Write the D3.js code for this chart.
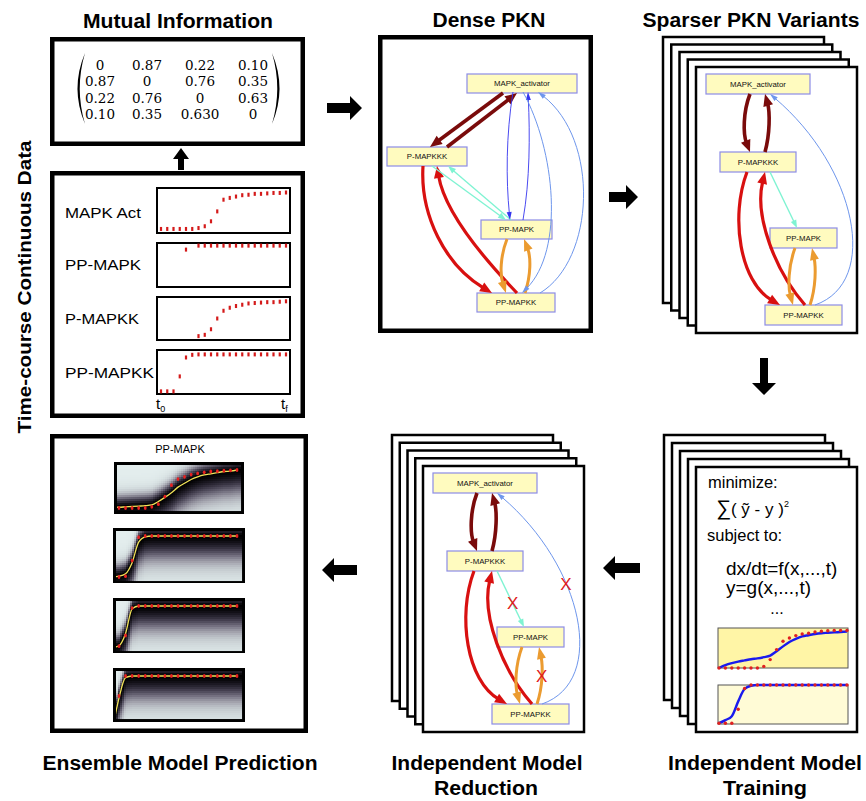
<!DOCTYPE html>
<html><head><meta charset="utf-8">
<script src="https://cdn.jsdelivr.net/npm/d3@7"></script>
<style>body{margin:0;background:#fff}svg{display:block}</style>
</head><body>
<script>
// ================= DATA =================
const miRow1 = ["0","0.87","0.22","0.10"];
const miRow2 = ["0.87","0","0.76","0.35"];
const miRow3 = ["0.22","0.76","0","0.63"];
const miRow4 = ["0.10","0.35","0.630","0"];

const timeSteps = [0,1,2,3,4,5,6,7,8,9,10,11,12,13,14,15,16,17,18,19,20];
const seriesNames = ["MAPK Act","PP-MAPK","P-MAPKK","PP-MAPKK"];
const mapkAct = [0.09,0.09,0.09,0.09,0.09,0.09,0.11,0.15,0.26,0.48,0.74,0.78,0.81,0.84,0.85,0.87,0.87,0.88,0.89,0.89,0.9];
const ppMapk  = [null,null,null,null,0.85,null,0.94,0.94,0.94,0.94,0.94,0.94,0.94,0.94,0.94,0.94,0.94,0.94,0.94,0.94,0.94];
const pMapkk  = [null,null,null,null,null,null,0.09,0.12,0.25,0.5,0.68,0.75,0.79,0.82,0.85,0.86,0.87,0.88,0.88,0.89,0.9];
const ppMapkk = [0.06,0.06,0.06,0.4,0.83,0.89,0.9,0.9,0.9,0.9,0.9,0.9,0.9,0.9,0.9,0.9,0.9,0.9,0.9,0.9,0.9];

const nodeLabels = {A:"MAPK_activator", K3:"P-MAPKKK", M:"PP-MAPK", KK:"PP-MAPKK"};
const denseEdges = [
  {s:"A",t:"K3",type:"darkred"},{s:"K3",t:"A",type:"darkred"},
  {s:"K3",t:"KK",type:"red"},{s:"KK",t:"K3",type:"red"},
  {s:"K3",t:"M",type:"aqua"},{s:"M",t:"K3",type:"aqua"},
  {s:"M",t:"KK",type:"orange"},{s:"KK",t:"M",type:"orange"},
  {s:"A",t:"M",type:"blue"},{s:"M",t:"A",type:"blue"},
  {s:"A",t:"KK",type:"lightblue"},{s:"KK",t:"A",type:"lightblue"}
];
const sparseEdges = [
  {s:"A",t:"K3",type:"darkred"},{s:"K3",t:"A",type:"darkred"},
  {s:"K3",t:"KK",type:"red"},{s:"KK",t:"K3",type:"red"},
  {s:"K3",t:"M",type:"aqua"},
  {s:"M",t:"KK",type:"orange"},{s:"KK",t:"M",type:"orange"},
  {s:"KK",t:"A",type:"lightblue"}
];
const removedEdges = ["K3>M","KK>A","KK>M"];

const trainSteps = [0,1,2,3,4,5,6,7,8,9,10,11,12,13,14,15,16,17,18,19,20];
const train1Obs = [0,0,0,0,0,0,0,0.04,0.21,0.46,0.67,0.75,0.81,0.85,0.87,0.9,0.92,0.93,0.94,0.94,0.94];
const train1Fit = [0,0.07,0.12,0.16,0.19,0.22,0.24,0.27,0.31,0.42,0.54,0.65,0.73,0.79,0.82,0.85,0.87,0.88,0.89,0.9,0.91];
const train2Obs = [0.02,0.02,0.02,0.38,0.91,1,1,1,1,1,1,1,1,1,1,1,1,1,1,1,1];
const train2Fit = [0.02,0.1,0.2,0.58,0.9,0.98,1,1,1,1,1,1,1,1,1,1,1,1,1,1,1];

const ensObsT = [0,1,2,3,4,5,6,7,8,9,10,11,12,13,14,15,16,17,18];
const ensFitT = [-0.6,0,1,2,3,4,5,6,7,8,9,10,11,12,13,14,15,16,17,18];
const ens1Obs = [0,0,0,0,0,0.03,0.1,0.3,0.6,0.76,0.82,0.88,0.91,0.94,0.96,0.97,0.98,0.99,1];
const ens1Fit = [0.02,0.02,0.03,0.04,0.05,0.06,0.08,0.17,0.28,0.4,0.55,0.65,0.75,0.82,0.87,0.9,0.93,0.96,0.97,1];
const ens2Obs = [0,0.02,0.4,0.97,1,1,1,1,1,1,1,1,1,1,1,1,1,1,1];
const ens2Fit = [0.01,0.02,0.08,0.35,0.85,0.98,1,1,1,1,1,1,1,1,1,1,1,1,1,1];
const ens3Obs = [0.02,0.28,0.95,1,1,1,1,1,1,1,1,1,1,1,1,1,1,1,1];
const ens3Fit = [0,0.03,0.33,0.93,1,1,1,1,1,1,1,1,1,1,1,1,1,1,1,1];
const ens4Obs = [0.5,1,1,1,1,1,1,1,1,1,1,1,1,1,1,1,1,1,1];
const ens4Fit = [0,0.45,0.96,1,1,1,1,1,1,1,1,1,1,1,1,1,1,1,1,1];

// ================= LAYOUT / STYLE =================
const EDGE_STYLE = {
  darkred:{color:"#7a0b0b", w:3.6, head:[12,10]},
  red:{color:"#d81010", w:3.2, head:[12,10]},
  aqua:{color:"#7ff3d2", w:1.4, head:[8,6]},
  orange:{color:"#eb9b30", w:3, head:[12,9]},
  blue:{color:"#3535ee", w:0.9, head:[8,5]},
  lightblue:{color:"#6e96ec", w:1, head:[8,5]}
};
const denseLayout = {
  nodes:{A:[467,74,110,19], K3:[387,147,80,19], M:[481,220,71,19], KK:[477,293,78,19]},
  paths:{
    "A>K3":[[503,93],[430,147]], "K3>A":[[447,147],[517,93]],
    "K3>KK":[[423,166],[420,215],[445,265],[492,293]],
    "KK>K3":[[517,293],[490,265],[445,215],[437,166]],
    "K3>M":[[432,166],[506,220]], "M>K3":[[511,220],[448,166]],
    "M>KK":[[507,239],[500,257],[500,275],[506,293]],
    "KK>M":[[525,293],[531,275],[531,257],[524,239]],
    "A>M":[[513,92],[506,135],[506,180],[510,220]],
    "M>A":[[523,220],[530,180],[530,135],[528,92]],
    "A>KK":[[523,92],[555,150],[565,250],[522,293]],
    "KK>A":[[540,293],[595,260],[600,140],[538,92]]
  }
};
const pageLayout = {
  nodes:{A:[10,7,104,20], K3:[24,85,76,20], M:[74,161,67,20], KK:[69,238,77,20]},
  paths:{
    "A>K3":[[54,27],[47,45],[47,67],[54,85]],
    "K3>A":[[69,85],[74,67],[74,45],[69,27]],
    "K3>KK":[[51,105],[34,150],[44,215],[84,238]],
    "KK>K3":[[109,238],[80,205],[58,150],[69,105]],
    "K3>M":[[74,105],[101,161]],
    "M>KK":[[99,181],[92,200],[92,220],[97,238]],
    "KK>M":[[114,238],[120,220],[120,200],[116,181]],
    "KK>A":[[119,238],[185,215],[160,100],[74,27]]
  },
  crossAt:{"K3>M":0.58,"KK>A":0.63,"KK>M":0.5}
};

const svg = d3.select("body").append("svg").attr("width",866).attr("height",801)
  .style("font-family","'Liberation Sans', Arial, Helvetica, sans-serif");

function label(g,x,y,s,o={}){
  const t=g.append("text").attr("x",x).attr("y",y).text(s)
    .attr("font-size",o.size||12).attr("text-anchor",o.anchor||"start").attr("fill",o.fill||"#000");
  if(o.bold) t.attr("font-weight","bold");
  if(o.len) t.attr("textLength",o.len).attr("lengthAdjust","spacingAndGlyphs");
  if(o.family) t.attr("font-family",o.family);
  return t;
}
function box(g,x0,y0,x1,y1,sw,fill){
  return g.append("rect").attr("x",x0+sw/2).attr("y",y0+sw/2).attr("width",x1-x0-sw).attr("height",y1-y0-sw)
    .attr("fill",fill||"#fff").attr("stroke","#000").attr("stroke-width",sw);
}
function blockArrow(x1,y1,x2,y2,shaft,head,headLen){
  const dx=x2-x1, dy=y2-y1, L=Math.hypot(dx,dy), ux=dx/L, uy=dy/L, px=-uy, py=ux;
  const bx=x2-ux*headLen, by=y2-uy*headLen;
  const pts=[[x1+px*shaft/2,y1+py*shaft/2],[bx+px*shaft/2,by+py*shaft/2],[bx+px*head/2,by+py*head/2],[x2,y2],
    [bx-px*head/2,by-py*head/2],[bx-px*shaft/2,by-py*shaft/2],[x1-px*shaft/2,y1-py*shaft/2]];
  svg.append("polygon").attr("points",pts.map(p=>p.join(",")).join(" ")).attr("fill","#000");
}
function cubicPt(P,t){
  if(P.length===2) return [P[0][0]+(P[1][0]-P[0][0])*t, P[0][1]+(P[1][1]-P[0][1])*t];
  const a=(1-t)**3,b=3*(1-t)**2*t,c=3*(1-t)*t*t,d=t**3;
  return [a*P[0][0]+b*P[1][0]+c*P[2][0]+d*P[3][0], a*P[0][1]+b*P[1][1]+c*P[2][1]+d*P[3][1]];
}
function drawPKN(g,ox,oy,layout,edges,crossed){
  Object.entries(layout.nodes).forEach(([id,n])=>{
    g.append("rect").attr("x",ox+n[0]).attr("y",oy+n[1]).attr("width",n[2]).attr("height",n[3])
      .attr("fill","#fffbbf").attr("stroke","#8c8ce6").attr("stroke-width",1.2);
    g.append("text").attr("x",ox+n[0]+n[2]/2).attr("y",oy+n[1]+n[3]/2+2.8).attr("text-anchor","middle")
      .attr("font-size",7.8).attr("fill","#111").text(nodeLabels[id]);
  });
  edges.forEach(e=>{
    const key=e.s+">"+e.t, st=EDGE_STYLE[e.type];
    const P=layout.paths[key].map(q=>[ox+q[0],oy+q[1]]);
    const s=P[0], t=P[P.length-1], from=P.length===4?P[2]:s;
    const dx=t[0]-from[0], dy=t[1]-from[1], L=Math.hypot(dx,dy), ux=dx/L, uy=dy/L;
    const [hl,hw]=st.head;
    const te=[t[0]-ux*hl*0.8, t[1]-uy*hl*0.8];
    const d=P.length===4?`M${s}C${P[1]} ${P[2]} ${te}`:`M${s}L${te}`;
    g.append("path").attr("d",d).attr("fill","none").attr("stroke",st.color).attr("stroke-width",st.w);
    const bx=t[0]-ux*hl, by=t[1]-uy*hl;
    g.append("polygon").attr("points",[[t[0],t[1]],[bx-uy*hw/2,by+ux*hw/2],[bx+uy*hw/2,by-ux*hw/2]].map(p=>p.join(",")).join(" "))
      .attr("fill",st.color);
  });
  (crossed||[]).forEach(key=>{
    const P=layout.paths[key].map(q=>[ox+q[0],oy+q[1]]);
    const p=cubicPt(P,layout.crossAt[key]);
    g.append("text").attr("x",p[0]).attr("y",p[1]+6).attr("text-anchor","middle").attr("font-size",17)
      .attr("fill","#e01b1b").text("X");
  });
}
function pageStack(g,fx,fy,w,h,stepX,stepY,n){
  for(let k=n-1;k>=0;k--){
    g.append("rect").attr("x",fx-stepX*k).attr("y",fy-stepY*k).attr("width",w).attr("height",h)
      .attr("fill","#fff").attr("stroke","#000").attr("stroke-width",2.5);
  }
}

// ================= TITLES =================
label(svg,178,28,"Mutual Information",{size:20,bold:true,anchor:"middle",len:190});
label(svg,489,27,"Dense PKN",{size:20,bold:true,anchor:"middle",len:113});
label(svg,751,27,"Sparser PKN Variants",{size:20,bold:true,anchor:"middle",len:217});
label(svg,180,770,"Ensemble Model Prediction",{size:20,bold:true,anchor:"middle",len:275});
label(svg,487,770,"Independent Model",{size:20,bold:true,anchor:"middle",len:191});
label(svg,486,795,"Reduction",{size:20,bold:true,anchor:"middle",len:104});
label(svg,765,770,"Independent Model",{size:20,bold:true,anchor:"middle",len:194});
label(svg,765,795,"Training",{size:20,bold:true,anchor:"middle",len:84});
svg.append("text").attr("transform","translate(31,287) rotate(-90)").attr("text-anchor","middle")
  .attr("font-size",19).attr("font-weight","bold").attr("textLength",293).attr("lengthAdjust","spacingAndGlyphs")
  .text("Time-course Continuous Data");

// ================= MUTUAL INFORMATION =================
const gMI=svg.append("g");
box(gMI,50,37,305,146,4.5);
const miRows=[miRow1,miRow2,miRow3,miRow4];
const miColX=[100,147,200,253], miRowY=[70,86,103,119];
miRows.forEach((row,i)=>row.forEach((v,j)=>{
  label(gMI,miColX[j],miRowY[i],v,{size:13.5,anchor:"middle",family:"'DejaVu Serif', serif"});
}));
gMI.append("path").attr("d","M85,53 Q70,88.5 85,124 Q74.5,88.5 85,53Z").attr("fill","#000");
gMI.append("path").attr("d","M272,53 Q287,88.5 272,124 Q282.5,88.5 272,53Z").attr("fill","#000");

// ================= TIME-COURSE =================
const gTC=svg.append("g");
box(gTC,50,171,305,418,4.5);
const tcX=d3.scaleLinear().domain([0,20]).range([161,286]);
const tcRows=[[188,233],[243,287],[297,340],[350,394]];
const tcSeries=[mapkAct,ppMapk,pMapkk,ppMapkk];
const tcLabelY=[218,270,324,378], tcLabelLen=[76,76,74,89];
tcSeries.forEach((vals,i)=>{
  const [y0,y1]=tcRows[i];
  gTC.append("rect").attr("x",157).attr("y",y0).attr("width",133).attr("height",y1-y0)
    .attr("fill","#fff").attr("stroke","#000").attr("stroke-width",2);
  const y=d3.scaleLinear().domain([0,1]).range([y1,y0]);
  gTC.selectAll(null).data(timeSteps.filter((t,k)=>vals[k]!=null)).enter().append("rect")
    .attr("x",t=>tcX(t)-1.1).attr("y",t=>y(vals[t])-2).attr("width",2.2).attr("height",4).attr("fill","#d41a1a");
  label(gTC,65,tcLabelY[i],seriesNames[i],{size:15.5,len:tcLabelLen[i]});
});
const t0=label(gTC,156,409,"t",{size:15});
t0.append("tspan").attr("font-size",9).attr("dy",3).text("0");
const tf=label(gTC,281,409,"t",{size:15});
tf.append("tspan").attr("font-size",9).attr("dy",3).text("f");

// ================= DENSE PKN =================
const gD=svg.append("g");
box(gD,378,35,593,333,4.5);
drawPKN(gD,0,0,denseLayout,denseEdges);

// ================= SPARSER PKN =================
const gS=svg.append("g");
pageStack(gS,696,67,161,266,8.25,7.5,5);
drawPKN(gS,696,67,pageLayout,sparseEdges);

// ================= REDUCTION =================
const gR=svg.append("g");
pageStack(gR,423,466,161,266,7.75,7.75,5);
drawPKN(gR,423,466,pageLayout,sparseEdges,removedEdges);

// ================= TRAINING =================
const gT=svg.append("g");
pageStack(gT,696,467,161,265,8,8,5);
label(gT,708,488,"minimize:",{size:16.5});
const sumT=label(gT,716,515,"",{size:17});
sumT.append("tspan").attr("font-size",21).text("∑");
sumT.append("tspan").text("( ỹ - y )");
sumT.append("tspan").attr("font-size",9).attr("dy",-8).text("2");
label(gT,707,541,"subject to:",{size:16.5});
label(gT,726,575,"dx/dt=f(x,...,t)",{size:19});
label(gT,726,594,"y=g(x,...,t)",{size:19});
label(gT,777,614,"...",{size:16,anchor:"middle"});
const trX=d3.scaleLinear().domain([0,20]).range([719,847]);
[[628,668,"#fff5a6",train1Obs,train1Fit],[685,724,"#fffbd6",train2Obs,train2Fit]].forEach(([y0,y1,fill,obs,fit])=>{
  gT.append("rect").attr("x",718).attr("y",y0).attr("width",130).attr("height",y1-y0)
    .attr("fill",fill).attr("stroke","#555").attr("stroke-width",1);
  const y=d3.scaleLinear().domain([0,1]).range([y1,y0]);
  gT.append("path").attr("d",d3.line().x(t=>trX(t)).y((t,k)=>y(fit[k])).curve(d3.curveMonotoneX)(trainSteps))
    .attr("fill","none").attr("stroke","#1a1aee").attr("stroke-width",2.4);
  gT.selectAll(null).data(trainSteps).enter().append("circle")
    .attr("cx",t=>trX(t)).attr("cy",(t,k)=>y(obs[k])).attr("r",1.7).attr("fill","#e02020");
});

// ================= ENSEMBLE =================
const gE=svg.append("g");
box(gE,50,434,308,733,4.5);
label(gE,180,453,"PP-MAPK",{size:11,anchor:"middle"});
const ensX=d3.scaleLinear().domain([0,18]).range([119,237]);
const ensFrames=[[114,462,244,514],[113,528,245,583],[113,598,245,653],[113,668,245,722]];
const ensObs=[ens1Obs,ens2Obs,ens3Obs,ens4Obs], ensFit=[ens1Fit,ens2Fit,ens3Fit,ens4Fit];
const shadeCol=d3.interpolateRgbBasis(["#000000","#262230","#5f5a6c","#a9a9b3","#d6e0e1","#e4eeee"]);
ensFrames.forEach(([x0,y0,x1,y1],i)=>{
  const g=gE.append("g");
  g.append("rect").attr("x",x0).attr("y",y0).attr("width",x1-x0).attr("height",y1-y0).attr("fill","#000");
  const ix0=x0+3, iy0=y0+3, ix1=x1-3, iy1=y1-3;
  const y=d3.scaleLinear().domain([0,1]).range([iy1-3,iy0+5]);
  const fitPx=ensFitT.map(t=>ensX(t)), fitPy=ensFit[i].map(v=>y(v));
  const curveY=px=>{
    if(px<=fitPx[0]) return fitPy[0];
    for(let k=1;k<fitPx.length;k++) if(px<=fitPx[k]){const f=(px-fitPx[k-1])/(fitPx[k]-fitPx[k-1]);return fitPy[k-1]+f*(fitPy[k]-fitPy[k-1]);}
    return fitPy[fitPy.length-1];
  };
  const cells=[];
  for(let cx=ix0;cx<ix1;cx+=2) for(let cy=iy0;cy<iy1;cy+=2){
    const dy=(cy+1)-curveY(cx+1), s=dy<0?13:28;
    cells.push([cx,cy,1-Math.exp(-Math.pow(Math.abs(dy)/s,1.5))]);
  }
  g.selectAll(null).data(cells).enter().append("rect").attr("x",c=>c[0]).attr("y",c=>c[1])
    .attr("width",2.05).attr("height",2.05).attr("fill",c=>shadeCol(c[2]));
  const cid="clipE"+i;
  g.append("clipPath").attr("id",cid).append("rect").attr("x",ix0).attr("y",iy0).attr("width",ix1-ix0).attr("height",iy1-iy0);
  g.append("path").attr("clip-path",`url(#${cid})`)
    .attr("d",d3.line().x(t=>ensX(t)).y((t,k)=>y(ensFit[i][k])).curve(d3.curveMonotoneX)(ensFitT))
    .attr("fill","none").attr("stroke","#f2e35a").attr("stroke-width",1.3);
  g.selectAll(null).data(ensObsT).enter().append("ellipse")
    .attr("cx",t=>ensX(t)).attr("cy",(t,k)=>y(ensObs[i][k])).attr("rx",1.4).attr("ry",1.9).attr("fill","#e82020");
});

// ================= BLOCK ARROWS =================
blockArrow(181,170,181,148,6,16,11);
blockArrow(327,108,362,108,10,24,12);
blockArrow(609,197,638,197,10,24,12);
blockArrow(764,358,764,395,8,24,12);
blockArrow(640,568,603,568,10,24,12);
blockArrow(357,570,322,570,10,24,12);
</script>
</body></html>
